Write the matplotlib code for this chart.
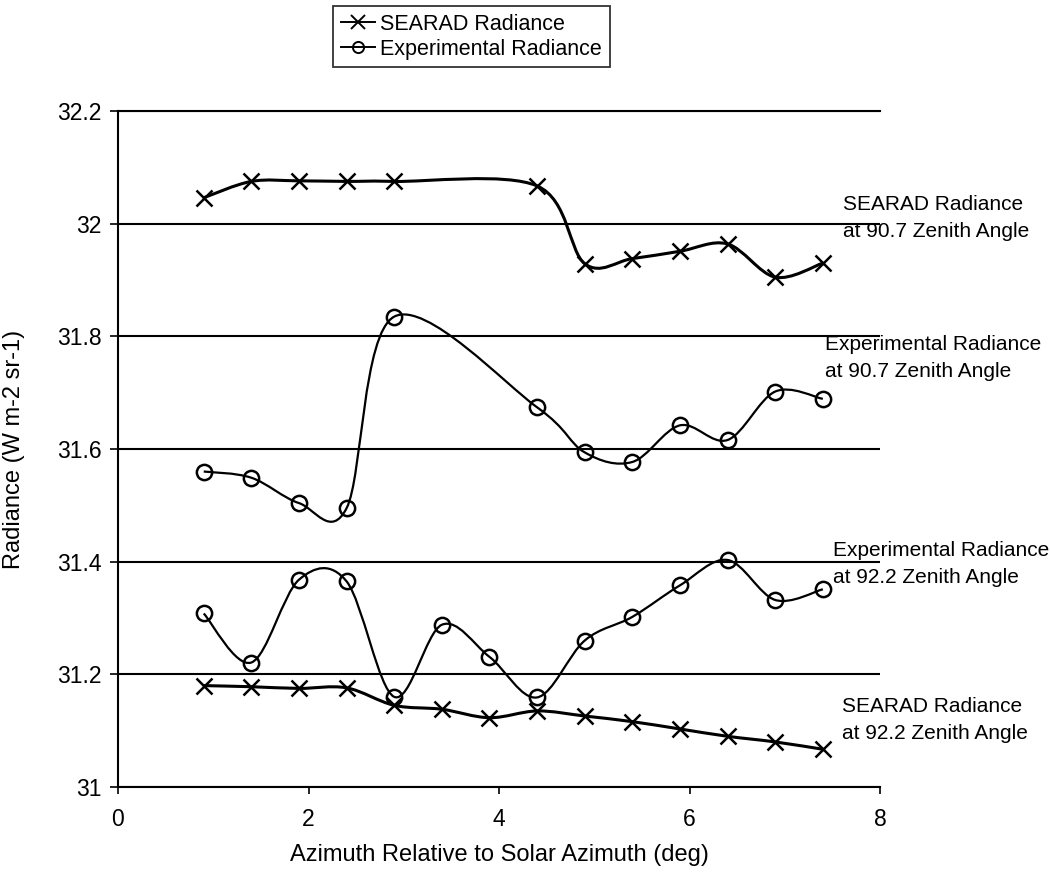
import numpy as np
import matplotlib
matplotlib.use("Agg")
import matplotlib.pyplot as plt
from matplotlib.path import Path
from matplotlib.patches import PathPatch
from matplotlib.lines import Line2D

plt.rcParams["font.family"] = ["Liberation Sans", "DejaVu Sans"]

# azimuth offsets (deg) for the two zenith angles
azimuth_907 = [0.9, 1.4, 1.9, 2.4, 2.9, 4.4, 4.9, 5.4, 5.9, 6.4, 6.9, 7.4]
azimuth_922 = [0.9, 1.4, 1.9, 2.4, 2.9, 3.4, 3.9, 4.4, 4.9, 5.4, 5.9, 6.4, 6.9, 7.4]

searad_907 = [32.046, 32.075, 32.076, 32.075, 32.075, 32.067,
              31.929, 31.938, 31.951, 31.964, 31.905, 31.930]
exper_907 = [31.560, 31.549, 31.504, 31.495, 31.835, 31.674,
             31.594, 31.577, 31.642, 31.616, 31.702, 31.689]
exper_922 = [31.308, 31.221, 31.368, 31.365, 31.160, 31.288, 31.231,
             31.159, 31.260, 31.302, 31.358, 31.403, 31.332, 31.351]
searad_922 = [31.180, 31.178, 31.175, 31.176, 31.145, 31.138, 31.123,
              31.135, 31.126, 31.116, 31.103, 31.090, 31.080, 31.067]

y_ticks = [31, 31.2, 31.4, 31.6, 31.8, 32, 32.2]
y_tick_labels = ["31", "31.2", "31.4", "31.6", "31.8", "32", "32.2"]
x_ticks = [0, 2, 4, 6, 8]


def smooth_path(x, y):
    # Excel-style smoothed line: Catmull-Rom segments as cubic Beziers
    pts = np.column_stack([x, y])
    n = len(pts)
    verts = [pts[0]]
    codes = [Path.MOVETO]
    for i in range(n - 1):
        p0 = pts[max(i - 1, 0)]
        p1 = pts[i]
        p2 = pts[i + 1]
        p3 = pts[min(i + 2, n - 1)]
        verts += [p1 + (p2 - p0) / 6, p2 - (p3 - p1) / 6, p2]
        codes += [Path.CURVE4] * 3
    return Path(verts, codes)


W, H = 1050, 877
fig = plt.figure(figsize=(W / 100, H / 100), dpi=100)
ax = fig.add_axes([118 / W, 1 - 787 / H, (880 - 118) / W, (787 - 111) / H])

series = [
    (azimuth_907, searad_907, "x", 2.2, 12),
    (azimuth_907, exper_907, "o", 1.6, 11),
    (azimuth_922, exper_922, "o", 1.6, 11),
    (azimuth_922, searad_922, "x", 2.2, 12),
]
for xs, ys, marker, lw, ms in series:
    ax.add_patch(PathPatch(smooth_path(xs, ys), facecolor="none",
                           edgecolor="black", lw=lw, zorder=3))
    ax.plot(xs, ys, ls="none", marker=marker, ms=ms, mew=1.8,
            mfc="none", mec="black", zorder=4)

ax.set_xlim(0, 8)
ax.set_ylim(31, 32.2)
ax.set_xticks(x_ticks)
ax.set_yticks(y_ticks)
ax.set_yticklabels(y_tick_labels)
ax.yaxis.grid(True, color="black", lw=1.5)
ax.set_axisbelow(True)
ax.spines["right"].set_visible(False)
for side in ["left", "bottom", "top"]:
    ax.spines[side].set_linewidth(1.5)
ax.tick_params(axis="y", direction="out", length=6, width=1.2, pad=6, labelsize=16.5)
ax.tick_params(axis="x", direction="out", length=5, width=1.2, pad=10, labelsize=16.5)

ax.set_xlabel("Azimuth Relative to Solar Azimuth (deg)", fontsize=17)
ax.xaxis.set_label_coords(0.5, -0.085)
ax.set_ylabel("Radiance (W m-2 sr-1)", fontsize=17)
ax.yaxis.set_label_coords(-0.122, 0.5)

# right-hand series annotations
notes = [
    (843, 218, "SEARAD Radiance\nat 90.7 Zenith Angle"),
    (825, 358, "Experimental Radiance\nat 90.7 Zenith Angle"),
    (833, 564, "Experimental Radiance\nat 92.2 Zenith Angle"),
    (842, 720, "SEARAD Radiance\nat 92.2 Zenith Angle"),
]
for px, py, txt in notes:
    fig.text(px / W, 1 - py / H, txt, fontsize=15, ha="left", va="center",
             linespacing=1.55)

handles = [
    Line2D([], [], color="black", lw=1.4, marker="x", ms=10, mew=1.4),
    Line2D([], [], color="black", lw=1.4, marker="o", ms=8, mew=1.4, mfc="none"),
]
leg = fig.legend(handles, ["SEARAD Radiance", "Experimental Radiance"],
                 loc="upper left", bbox_to_anchor=(333 / W, 1 - 6 / H),
                 fontsize=15.5, frameon=True, fancybox=False, borderpad=0.35,
                 labelspacing=0.2, handlelength=1.6, handletextpad=0.25,
                 borderaxespad=0)
leg.get_frame().set_edgecolor("black")
leg.get_frame().set_linewidth(1.3)

fig.savefig("out.png", dpi=100)
